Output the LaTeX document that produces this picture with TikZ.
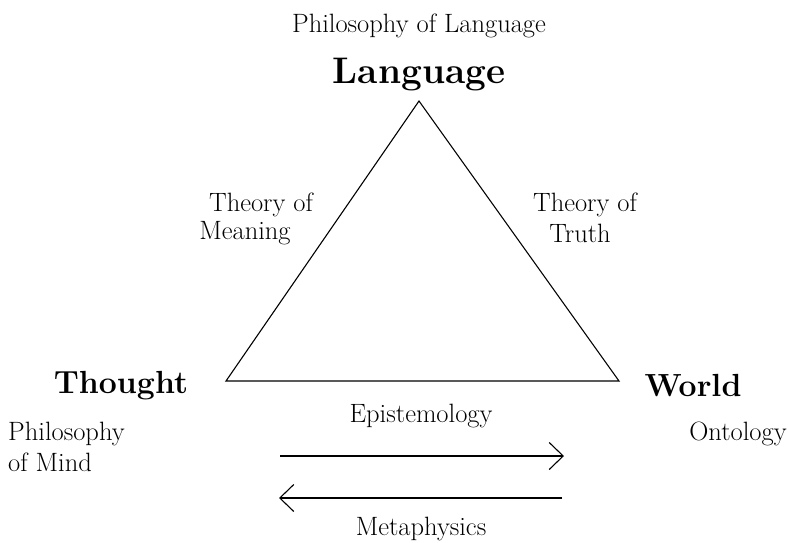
\documentclass[tikz,border=0pt]{standalone}
\usetikzlibrary{arrows.meta}
\begin{document}
\begin{tikzpicture}[x=1pt,y=-1pt,
  big/.style={font=\fontsize{32}{34}\selectfont\bfseries, inner sep=0pt},
  small/.style={font=\fontsize{26.5}{28}\selectfont, inner sep=0pt},
  edge/.style={line width=1.1pt},
  arr/.style={line width=1.1pt, -{Straight Barb[length=14pt,width=27pt,line width=1.1pt]}}]
\useasboundingbox[fill=white] (0,0) rectangle (788,542);
% triangle
\coordinate (L) at (419,101);
\coordinate (T) at (226,381);
\coordinate (W) at (619,381);
\draw[edge, line join=miter] (L) -- (T) -- (W) -- cycle;
% labels
\node[small] (pl) at (419,26) {Philosophy of Language};
\node[big, font=\fontsize{37}{39}\selectfont\bfseries] (lang) at (419,75) {Language};
\node[big] (th) at (121,386) {Thought};
\node[big] (wo) at (693,386) {World};
\node[small, anchor=west] (pm1) at (8,434) {Philosophy};
\node[small, anchor=west] (pm2) at (8,462) {of Mind};
\node[small] (on) at (738,434) {Ontology};
\node[small] (tm1) at (261,205) {Theory of};
\node[small] (tm2) at (245,233) {Meaning};
\node[small] (tt1) at (585,205) {Theory of};
\node[small] (tt2) at (580,233) {Truth};
\node[small] (ep) at (421,416) {Epistemology};
\node[small] (me) at (421,529) {Metaphysics};
% arrows
\coordinate (a1) at (280,456);
\coordinate (a2) at (564,456);
\coordinate (b1) at (562,498);
\coordinate (b2) at (279,498);
\draw[arr] (a1) -- (a2);
\draw[arr] (b1) -- (b2);
\end{tikzpicture}
\end{document}
